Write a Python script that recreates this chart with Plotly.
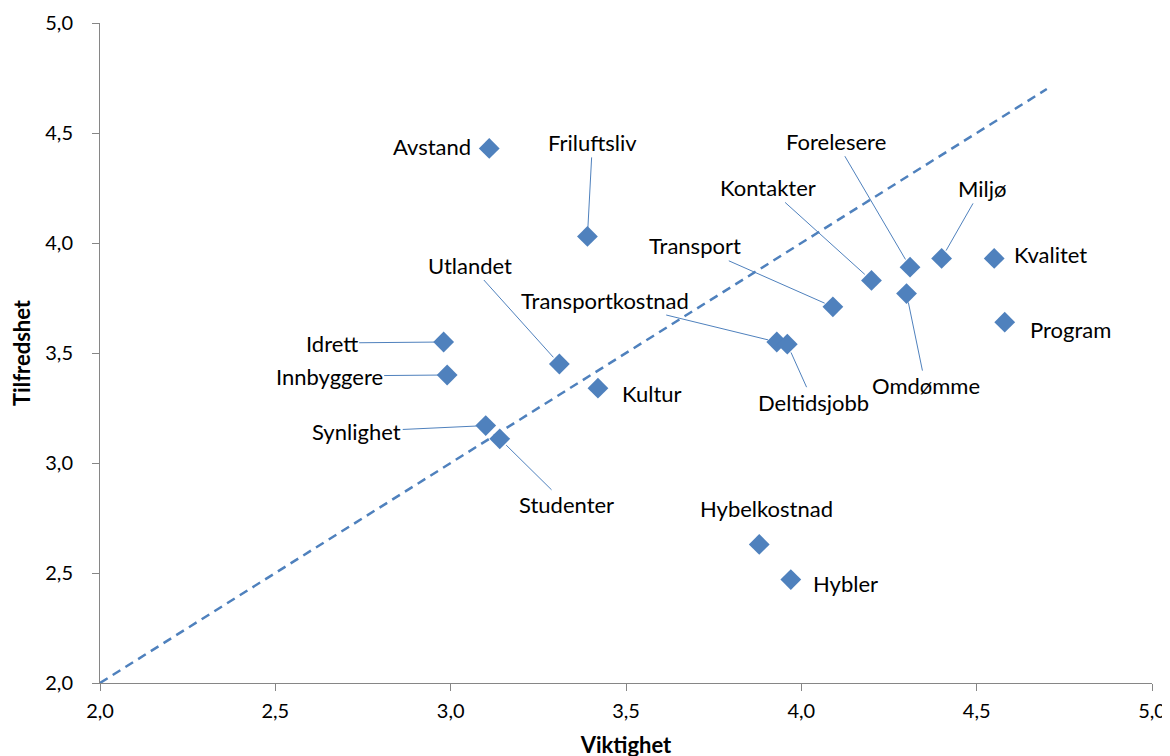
import plotly.graph_objects as go

# ---- data ----
names = ["Avstand", "Friluftsliv", "Forelesere", "Miljø", "Kvalitet", "Kontakter",
         "Omdømme", "Transport", "Program", "Transportkostnad", "Deltidsjobb",
         "Idrett", "Utlandet", "Innbyggere", "Kultur", "Synlighet", "Studenter",
         "Hybelkostnad", "Hybler"]
viktighet = [3.11, 3.39, 4.31, 4.40, 4.55, 4.20, 4.30, 4.09, 4.58, 3.93, 3.96,
             2.98, 3.31, 2.99, 3.42, 3.10, 3.14, 3.88, 3.97]
tilfredshet = [4.43, 4.03, 3.89, 3.93, 3.93, 3.83, 3.77, 3.71, 3.64, 3.55, 3.54,
               3.55, 3.45, 3.40, 3.34, 3.17, 3.11, 2.63, 2.47]
ref_x = [2.0, 4.7]
ref_y = [2.0, 4.7]
tick_vals = [2.0, 2.5, 3.0, 3.5, 4.0, 4.5, 5.0]

# ---- label placement (pixel offsets of label centre from point; leader flag) ----
label_pos = {
    "Avstand": (-57, -2, False),
    "Friluftsliv": (5, -94, True),
    "Forelesere": (-74, -126, True),
    "Miljø": (40, -70, True),
    "Kvalitet": (56, -4, False),
    "Kontakter": (-103, -93, True),
    "Omdømme": (19, 92, True),
    "Transport": (-138, -61, True),
    "Program": (66, 7, False),
    "Transportkostnad": (-172, -42, True),
    "Deltidsjobb": (26, 58, True),
    "Idrett": (-112, 1, True),
    "Utlandet": (-89, -99, True),
    "Innbyggere": (-118, 1, True),
    "Kultur": (54, 5, False),
    "Synlighet": (-129, 6, True),
    "Studenter": (67, 66, True),
    "Hybelkostnad": (7, -36, False),
    "Hybler": (55, 4, False),
}

BLUE = "#4F81BD"
FONT = "Lato"
LBL = 22

fig = go.Figure()
fig.add_trace(go.Scatter(x=ref_x, y=ref_y, mode="lines",
                         line=dict(color=BLUE, width=2.5, dash="9px,6px"),
                         hoverinfo="skip", showlegend=False))
fig.add_trace(go.Scatter(x=viktighet, y=tilfredshet, mode="markers", text=names,
                         marker=dict(symbol="diamond", size=16, color=BLUE),
                         showlegend=False))

annotations = []
for n, xv, yv in zip(names, viktighet, tilfredshet):
    dx, dy, leader = label_pos[n]
    if leader:
        annotations.append(dict(x=xv, y=yv, xref="x", yref="y", text=n,
                                showarrow=True, ax=dx, ay=dy, arrowhead=0,
                                arrowwidth=1, arrowcolor=BLUE, standoff=9,
                                font=dict(family=FONT, size=LBL, color="#000")))
    else:
        annotations.append(dict(x=xv, y=yv, xref="x", yref="y", text=n,
                                showarrow=False, xshift=dx, yshift=-dy,
                                xanchor="center", yanchor="middle",
                                font=dict(family=FONT, size=LBL, color="#000")))

axis_common = dict(range=[2, 5], tickvals=tick_vals, tickformat=".1f",
                   showgrid=False, zeroline=False, showline=True, automargin=False,
                   linecolor="#868686", linewidth=1, ticks="outside",
                   ticklen=7, tickcolor="#868686", ticklabeloverflow="allow",
                   tickfont=dict(family=FONT, size=20, color="#000"))

# the page body adds an 8px offset; margins compensate so the plot area
# lands where the reference has it
fig.update_layout(
    width=1170, height=756,
    margin=dict(l=92, r=26, t=15, b=81),
    paper_bgcolor="white", plot_bgcolor="white",
    separators=", ",
    annotations=annotations,
    xaxis=dict(**axis_common, ticklabelstandoff=3,
               title=dict(text="<b>Viktighet</b>", standoff=16,
                          font=dict(family=FONT, size=22, color="#000"))),
    yaxis=dict(**axis_common, ticklabelstandoff=15,
               title=dict(text="<b>Tilfredshet</b>", standoff=10,
                          font=dict(family=FONT, size=22, color="#000"))),
)

fig.write_html("out.html")
